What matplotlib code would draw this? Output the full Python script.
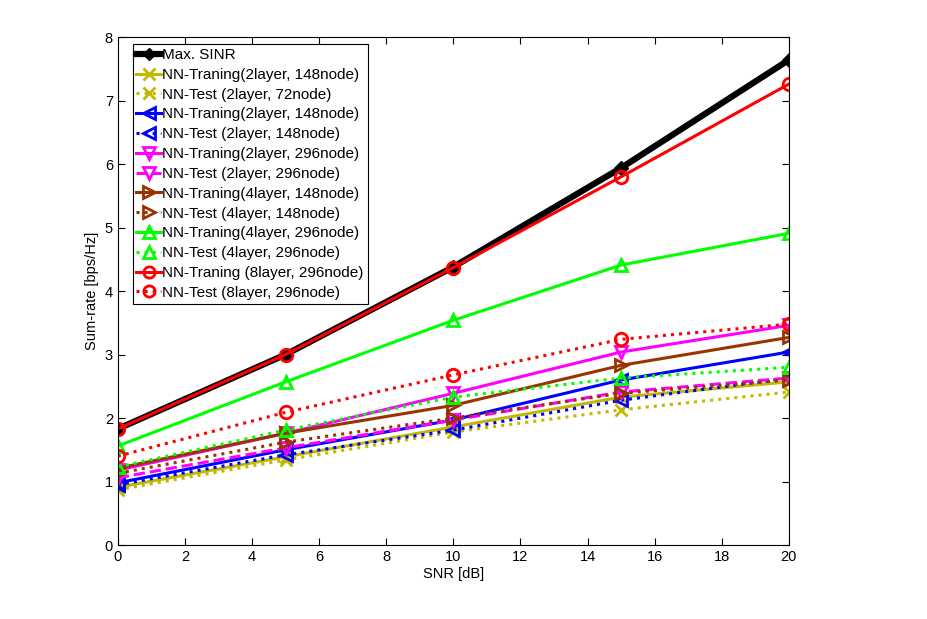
import matplotlib
matplotlib.use("Agg")
import matplotlib.pyplot as plt

plt.rcParams['font.family'] = ['Liberation Sans', 'DejaVu Sans']

snr = [0, 5, 10, 15, 20]

max_sinr = [1.83, 3.00, 4.38, 5.94, 7.64]
tr_2l148_y = [0.91, 1.39, 1.86, 2.33, 2.57]
te_2l72 = [0.87, 1.34, 1.78, 2.13, 2.41]
tr_2l148 = [0.98, 1.50, 1.97, 2.60, 3.04]
te_2l148 = [0.95, 1.42, 1.81, 2.28, 2.63]
tr_2l296 = [1.18, 1.76, 2.39, 3.04, 3.46]
te_2l296 = [1.06, 1.53, 1.97, 2.41, 2.63]
tr_4l148 = [1.21, 1.76, 2.20, 2.83, 3.27]
te_4l148 = [1.13, 1.62, 2.00, 2.39, 2.60]
tr_4l296 = [1.56, 2.57, 3.54, 4.41, 4.91]
te_4l296 = [1.23, 1.81, 2.33, 2.63, 2.80]
tr_8l296 = [1.83, 3.00, 4.37, 5.80, 7.26]
te_8l296 = [1.40, 2.09, 2.68, 3.24, 3.48]

labels = ['Max. SINR',
          'NN-Traning(2layer, 148node)',
          'NN-Test (2layer, 72node)',
          'NN-Traning(2layer, 148node)',
          'NN-Test (2layer, 148node)',
          'NN-Traning(2layer, 296node)',
          'NN-Test (2layer, 296node)',
          'NN-Traning(4layer, 148node)',
          'NN-Test (4layer, 148node)',
          'NN-Traning(4layer, 296node)',
          'NN-Test (4layer, 296node)',
          'NN-Traning (8layer, 296node)',
          'NN-Test (8layer, 296node)']

olive = (0.76, 0.72, 0.0)
brown = (0.6, 0.2, 0.0)
green = (0, 1, 0)
magenta = (1, 0, 1)

fig = plt.figure(figsize=(9.28, 6.19), dpi=100)
ax = fig.add_axes([0.127, 0.1195, 0.723, 0.8205])

lw = 2.2
ms = 9
ax.plot(snr, max_sinr, color='k', lw=4.5, marker='D', ms=7, label=labels[0])
series = [
    (tr_2l148_y, olive, '-', 'x'),
    (te_2l72, olive, ':', 'x'),
    (tr_2l148, 'b', '-', '<'),
    (te_2l148, 'b', ':', '<'),
    (tr_2l296, magenta, '-', 'v'),
    (te_2l296, magenta, '--', 'v'),
    (tr_4l148, brown, '-', '>'),
    (te_4l148, brown, ':', '>'),
    (tr_4l296, green, '-', '^'),
    (te_4l296, green, ':', '^'),
    (tr_8l296, 'r', '-', 'o'),
    (te_8l296, 'r', ':', 'o'),
]
for (y, c, ls, m), lab in zip(series, labels[1:]):
    ax.plot(snr, y, color=c, ls=ls, lw=lw, marker=m, ms=ms,
            mfc='none', mec=c, mew=2, label=lab)

ax.set_xlim(0, 20)
ax.set_ylim(0, 8)
ax.set_xticks(range(0, 21, 2))
ax.set_yticks(range(0, 9))
ax.tick_params(direction='in', top=True, right=True, labelsize=10.5, length=5)
ax.set_xlabel('SNR [dB]', fontsize=10.5, labelpad=2)
ax.set_ylabel('Sum-rate [bps/Hz]', fontsize=10.5, labelpad=4)

leg = ax.legend(loc='upper left', bbox_to_anchor=(0.022, 0.986), borderaxespad=0,
                fontsize=11, handlelength=1.6, handletextpad=0.1,
                labelspacing=0.38, borderpad=0.25, fancybox=False,
                edgecolor='k', framealpha=1, markerscale=0.9)
leg.get_frame().set_linewidth(0.8)

fig.savefig('out.png', dpi=100)
